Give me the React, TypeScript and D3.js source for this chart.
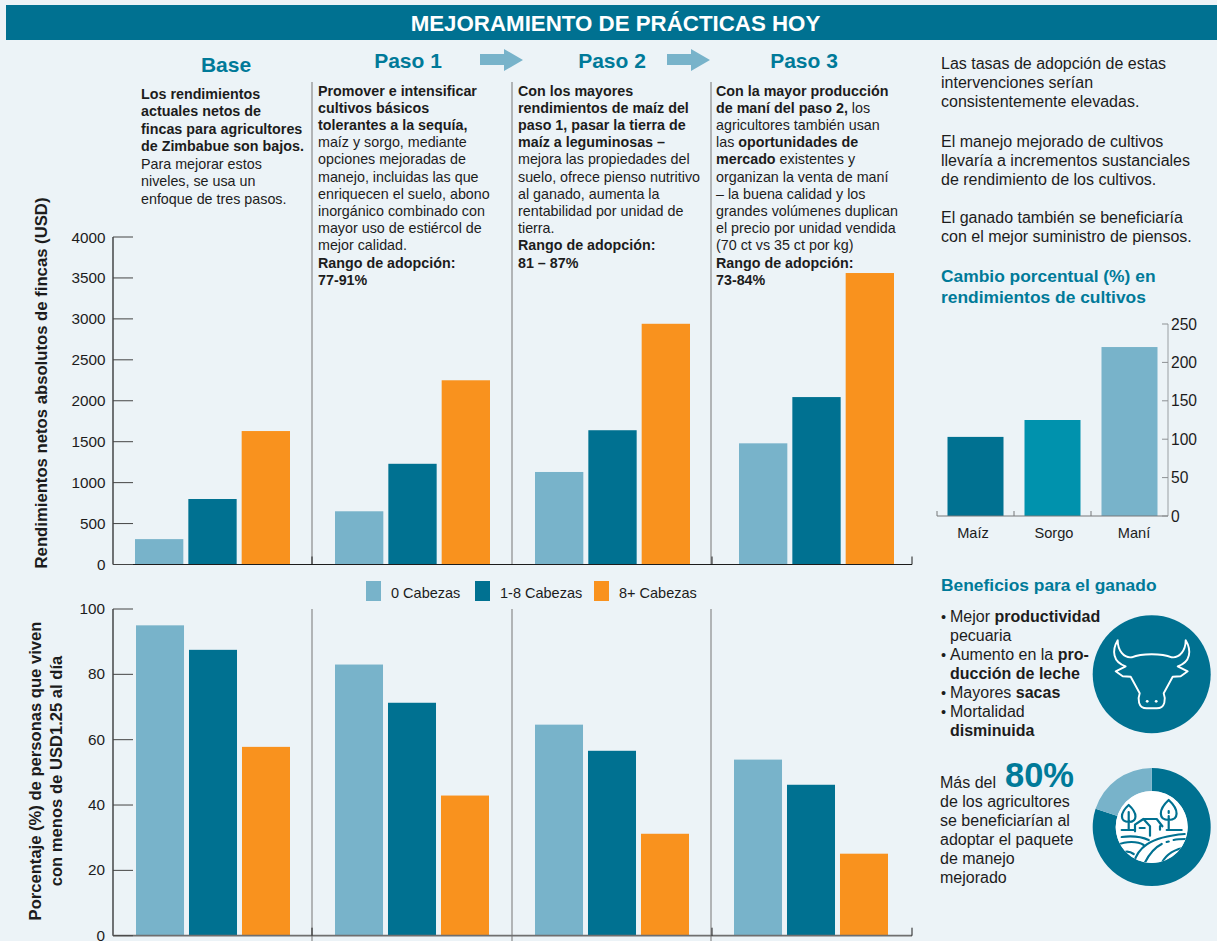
import { scaleLinear, scaleBand, scaleOrdinal, pie, arc } from "d3";

const steps = ["Base", "Paso 1", "Paso 2", "Paso 3"];
const herds = ["0 Cabezas", "1-8 Cabezas", "8+ Cabezas"];

const incomeByHerd = [
  [310, 650, 1130, 1480],
  [800, 1230, 1640, 2045],
  [1630, 2250, 2940, 3560],
];
const povertyByHerd = [
  [95, 83, 64.6, 53.9],
  [87.5, 71.3, 56.6, 46.2],
  [57.8, 42.9, 31.2, 25.1],
];
const incomeTicks = [0, 500, 1000, 1500, 2000, 2500, 3000, 3500, 4000];
const povertyTicks = [0, 20, 40, 60, 80, 100];

const crops = ["Maíz", "Sorgo", "Maní"];
const cropChange = [103, 125, 220];
const cropTicks = [0, 50, 100, 150, 200, 250];

const adoption = [80, 20];

type Run = [string, boolean?];
type Line = Run[];

const baseText: Line[] = [
  [["Los rendimientos", true]],
  [["actuales netos de", true]],
  [["fincas para agricultores", true]],
  [["de Zimbabue son bajos.", true]],
  [["Para mejorar estos"]],
  [["niveles, se usa un"]],
  [["enfoque de tres pasos."]],
];
const paso1Text: Line[] = [
  [["Promover e intensificar", true]],
  [["cultivos básicos", true]],
  [["tolerantes a la sequía,", true]],
  [["maíz y sorgo, mediante"]],
  [["opciones mejoradas de"]],
  [["manejo, incluidas las que"]],
  [["enriquecen el suelo, abono"]],
  [["inorgánico combinado con"]],
  [["mayor uso de estiércol de"]],
  [["mejor calidad."]],
  [["Rango de adopción:", true]],
  [["77-91%", true]],
];
const paso2Text: Line[] = [
  [["Con los mayores", true]],
  [["rendimientos de maíz del", true]],
  [["paso 1, pasar la tierra de", true]],
  [["maíz a leguminosas –", true]],
  [["mejora las propiedades del"]],
  [["suelo, ofrece pienso nutritivo"]],
  [["al ganado, aumenta la"]],
  [["rentabilidad por unidad de"]],
  [["tierra."]],
  [["Rango de adopción:", true]],
  [["81 – 87%", true]],
];
const paso3Text: Line[] = [
  [["Con la mayor producción", true]],
  [["de maní del paso 2,", true], [" los"]],
  [["agricultores también usan"]],
  [["las "], ["oportunidades de", true]],
  [["mercado", true], [" existentes y"]],
  [["organizan la venta de maní"]],
  [["– la buena calidad y los"]],
  [["grandes volúmenes duplican"]],
  [["el precio por unidad vendida"]],
  [["(70 ct vs 35 ct por kg)"]],
  [["Rango de adopción:", true]],
  [["73-84%", true]],
];
const sideText = [
  ["Las tasas de adopción de estas", "intervenciones serían", "consistentemente elevadas."],
  ["El manejo mejorado de cultivos", "llevaría a incrementos sustanciales", "de rendimiento de los cultivos."],
  ["El ganado también se beneficiaría", "con el mejor suministro de piensos."],
];
const benefitText: Line[] = [
  [["Mejor "], ["productividad", true]],
  [["pecuaria"]],
  [["Aumento en la "], ["pro-", true]],
  [["ducción de leche", true]],
  [["Mayores "], ["sacas", true]],
  [["Mortalidad"]],
  [["disminuida", true]],
];
const bulletLines = [0, 2, 4, 5];
const adoptText = ["de los agricultores", "se beneficiarían al", "adoptar el paquete", "de manejo", "mejorado"];

const LIGHT = "#78B3CA";
const DARK = "#007191";
const ORANGE = "#F9921E";
const TEAL = "#007A99";
const INK = "#1c1c1c";
const FONT = "'Liberation Sans', Arial, sans-serif";

const Para = ({ lines, x, y, pitch, size }: { lines: Line[]; x: number; y: number; pitch: number; size: number }) => (
  <text fontSize={size} fill={INK}>
    {lines.map((line, i) => (
      <tspan key={i} x={x} y={y + i * pitch}>
        {line.map((r, j) => (
          <tspan key={j} fontWeight={r[1] ? "bold" : "normal"}>{r[0]}</tspan>
        ))}
      </tspan>
    ))}
  </text>
);

const Arrow = ({ x }: { x: number }) => (
  <path
    d={`M${x} 54 H${x + 24} V49 L${x + 43} 60 L${x + 24} 71 V65 H${x} Z`}
    fill={LIGHT}
  />
);

const BarPanel = ({
  values, scaleY, starts, groupWidth,
}: {
  values: number[][];
  scaleY: (v: number) => number;
  starts: number[];
  groupWidth: number;
}) => {
  const scaleStep = scaleOrdinal<string, number>().domain(steps).range(starts);
  const scaleHerd = scaleBand<string>().domain(herds).range([0, groupWidth]).paddingInner(0.094);
  const scaleColor = scaleOrdinal<string, string>().domain(herds).range([LIGHT, DARK, ORANGE]);
  return (
    <g>
      {herds.map((h, i) =>
        steps.map((s, j) => (
          <rect
            key={h + s}
            x={scaleStep(s) + (scaleHerd(h) as number)}
            y={scaleY(values[i][j])}
            width={scaleHerd.bandwidth()}
            height={scaleY(0) - scaleY(values[i][j])}
            fill={scaleColor(h)}
          />
        ))
      )}
    </g>
  );
};

export default function App() {
  const width = 1217;
  const height = 941;

  const AXIS_X = 113;
  const AXIS_END = 912;
  const TICK = 20;
  const seps = [312, 512, 711];

  const yIncome = scaleLinear().domain([0, 4000]).range([564.5, 237]);
  const yPoverty = scaleLinear().domain([0, 100]).range([935.7, 609]);
  const yCrop = scaleLinear().domain([0, 250]).range([516, 324]);
  const xCrop = scaleBand<string>().domain(crops).range([937, 1168]).paddingInner(0.2727).paddingOuter(0.1364);
  const cropColor = scaleOrdinal<string, string>().domain(crops).range([DARK, "#0092AD", LIGHT]);

  const slices = pie<number>().sort(null)(adoption);
  const ring = arc<any>().innerRadius(36).outerRadius(59);

  return (
    <svg
      width={width}
      height={height}
      style={{ position: "absolute", left: 0, top: 0, background: "#ECF3F7" }}
      fontFamily={FONT}
    >
      <rect x={6} y={5} width={1211} height={35} fill={DARK} />
      <text x={615.5} y={31} fontSize={22.3} fontWeight="bold" fill="#fff" textAnchor="middle">
        MEJORAMIENTO DE PRÁCTICAS HOY
      </text>

      {/* step headings */}
      <g fontSize={21} fontWeight="bold" fill={TEAL} textAnchor="middle">
        <text x={226} y={72}>{steps[0]}</text>
        <text x={408} y={68}>{steps[1]}</text>
        <text x={612} y={68}>{steps[2]}</text>
        <text x={804} y={68}>{steps[3]}</text>
      </g>
      <Arrow x={480} />
      <Arrow x={667} />

      <Para lines={baseText} x={141} y={98.5} pitch={17.5} size={14.3} />
      <Para lines={paso1Text} x={318} y={95.5} pitch={17.2} size={14.3} />
      <Para lines={paso2Text} x={518} y={95.5} pitch={17.2} size={14.3} />
      <Para lines={paso3Text} x={716} y={95.5} pitch={17.2} size={14.3} />

      {/* separators */}
      {seps.map((x) => (
        <g key={x} stroke="#8a8a8a" strokeWidth={1.2}>
          <line x1={x} x2={x} y1={82} y2={565} />
          <line x1={x} x2={x} y1={609} y2={941} />
        </g>
      ))}

      {/* top chart */}
      <BarPanel values={incomeByHerd} scaleY={yIncome} starts={[135, 335, 535, 739]} groupWidth={155} />
      <g stroke={INK} fill="none">
        <line x1={AXIS_X} x2={AXIS_X} y1={yIncome(4000)} y2={yIncome(0)} strokeWidth={1.2} />
        <line x1={AXIS_X} x2={AXIS_END} y1={yIncome(0)} y2={yIncome(0)} strokeWidth={1.2} />
        {incomeTicks.map((t) => (
          <line key={t} x1={AXIS_X} x2={AXIS_X + TICK} y1={yIncome(t)} y2={yIncome(t)} strokeWidth={1} stroke="#444" />
        ))}
        {[312, 712, AXIS_END].map((x) => (
          <line key={x} x1={x} x2={x} y1={yIncome(0) - 8} y2={yIncome(0)} strokeWidth={1} />
        ))}
      </g>
      <g fontSize={15.3} fill={INK} textAnchor="end">
        {incomeTicks.map((t) => (
          <text key={t} x={105.5} y={yIncome(t) + 5.5}>{t}</text>
        ))}
      </g>
      <text
        transform="translate(46.5,383) rotate(-90)"
        fontSize={16.7}
        fontWeight="bold"
        fill={INK}
        textAnchor="middle"
      >
        Rendimientos netos absolutos de fincas (USD)
      </text>

      {/* legend */}
      <g fontSize={14.5} fill={INK}>
        {herds.map((h, i) => (
          <g key={h}>
            <rect x={[366, 475, 594][i]} y={581} width={15} height={20} fill={[LIGHT, DARK, ORANGE][i]} />
            <text x={[391, 500, 619][i]} y={598}>{h}</text>
          </g>
        ))}
      </g>

      {/* bottom chart */}
      <BarPanel values={povertyByHerd} scaleY={yPoverty} starts={[136, 335, 535, 734]} groupWidth={154} />
      <g fill="none">
        <line x1={AXIS_X} x2={AXIS_X} y1={yPoverty(100)} y2={yPoverty(0)} stroke={INK} strokeWidth={1.2} />
        <line x1={AXIS_X} x2={AXIS_END} y1={yPoverty(0)} y2={yPoverty(0)} stroke="#6f6f6f" strokeWidth={1.8} />
        {povertyTicks.map((t) => (
          <line key={t} x1={AXIS_X} x2={AXIS_X + TICK} y1={yPoverty(t)} y2={yPoverty(t)} stroke="#444" strokeWidth={1} />
        ))}
        {[312, 712, AXIS_END].map((x) => (
          <line key={x} x1={x} x2={x} y1={yPoverty(0) - 8} y2={yPoverty(0)} stroke={INK} strokeWidth={1} />
        ))}
      </g>
      <g fontSize={15.3} fill={INK} textAnchor="end">
        {povertyTicks.map((t) => (
          <text key={t} x={105} y={yPoverty(t) + 5}>{t}</text>
        ))}
      </g>
      <g fontSize={16.6} fontWeight="bold" fill={INK} textAnchor="middle">
        <text transform="translate(41,771) rotate(-90)">Porcentaje (%) de personas que viven</text>
        <text transform="translate(62,771) rotate(-90)">con menos de USD1.25 al día</text>
      </g>

      {/* right column */}
      <g fontSize={16} fill={INK}>
        {sideText.map((block, b) =>
          block.map((t, i) => (
            <text key={t} x={941} y={[68.5, 146.5, 222.5][b] + i * 19}>{t}</text>
          ))
        )}
      </g>
      <g fontSize={17.4} fontWeight="bold" fill={TEAL}>
        <text x={941} y={282}>Cambio porcentual (%) en</text>
        <text x={941} y={303}>rendimientos de cultivos</text>
        <text x={941} y={591}>Beneficios para el ganado</text>
      </g>

      {/* crop chart */}
      {crops.map((c, i) => (
        <rect
          key={c}
          x={xCrop(c)}
          y={yCrop(cropChange[i])}
          width={xCrop.bandwidth()}
          height={yCrop(0) - yCrop(cropChange[i])}
          fill={cropColor(c)}
        />
      ))}
      <line x1={1168} x2={1168} y1={yCrop(250)} y2={yCrop(0)} stroke="#b9bec2" strokeWidth={1.6} />
      <line x1={937} x2={1168} y1={yCrop(0)} y2={yCrop(0)} stroke="#77797b" strokeWidth={1.1} />
      {[937, 1014, 1091].map((x) => (
        <line key={x} x1={x} x2={x} y1={yCrop(0) - 5} y2={yCrop(0)} stroke="#77797b" />
      ))}
      {cropTicks.map((t) => (
        <g key={t}>
          <line x1={1162} x2={1168} y1={yCrop(t)} y2={yCrop(t)} stroke="#8d9194" />
          <text x={1171} y={yCrop(t) + 5.5} fontSize={15.6} fill={INK}>{t}</text>
        </g>
      ))}
      {crops.map((c, i) => (
        <text key={c} x={[973, 1054, 1134][i]} y={538} fontSize={14.6} fill={INK} textAnchor="middle">{c}</text>
      ))}

      {/* benefits */}
      <Para lines={benefitText} x={950} y={621.5} pitch={19} size={16} />
      {bulletLines.map((i) => (
        <text key={i} x={941} y={621.5 + i * 19} fontSize={14.5} fill={INK}>•</text>
      ))}

      <g transform="translate(1151.7,674.3)">
        <circle r={59} fill={DARK} />
        <path
          d="M-34 -34 C-40 -24 -39 -12 -26 -8 L-36 -3 L-29 2 L-21 2.5 L-12 19 C-14 24 -14 34 -5 34 L5 34 C14 34 14 24 12 19 L21 2.5 L29 2 L36 -3 L26 -8 C39 -12 40 -24 34 -34 C34 -24 28 -16 20 -17 C10 -21 -10 -21 -20 -17 C-28 -16 -34 -24 -34 -34 Z"
          fill="none"
          stroke="#fff"
          strokeWidth={1.9}
          strokeLinejoin="round"
        />
        <circle cx={-4.5} cy={27} r={1.4} fill="#fff" />
        <circle cx={4.5} cy={27} r={1.4} fill="#fff" />
      </g>

      {/* 80% */}
      <text x={940} y={787.5} fontSize={16} fill={INK}>Más del</text>
      <text x={1005} y={787} fontSize={34.5} fontWeight="bold" fill={TEAL}>80%</text>
      {adoptText.map((t, i) => (
        <text key={t} x={940} y={806.5 + i * 19} fontSize={16} fill={INK}>{t}</text>
      ))}

      <g transform="translate(1151.7,827)">
        {slices.map((s, i) => (
          <path key={i} d={ring(s) as string} fill={i === 0 ? DARK : LIGHT} />
        ))}
        <clipPath id="farm-clip"><circle r={36} /></clipPath>
        <circle r={36} fill="#fff" />
        <g clipPath="url(#farm-clip)" fill="none" stroke={DARK} strokeWidth={2.2} strokeLinecap="round" strokeLinejoin="round">
          <path d="M-23 -22 C-32 -14 -32 -5 -23 -5 C-14 -5 -14 -14 -23 -22 Z M-23 -15 V2" />
          <path d="M17 -27 C6 -17 7 -7 17 -7 C27 -7 28 -17 17 -27 Z M17 -16 V-14 M17 -11 V3" />
          <path d="M-16.7 -2.3 L-8.3 -8 H5 L10.7 -0.7 M-8.3 -8 L-1.7 -0.7 M-16.7 -2.3 V4.3 M-1.7 -0.7 V8.7 M8.3 -1 V2.7 M-12 1 H-7" />
          <path d="M-30 3 H-17 M15 3 H30" />
          <path d="M-30 10 C-22 9 -12 9 -3 13" />
          <path d="M-34 18 C-26 14 -14 14 -8 18" />
          <path d="M-30 26 C-26 24 -22 24 -18 27" />
          <path d="M-18 36 C-14 22 -4 10 33 7" />
          <path d="M-7 36 C-2 26 4 20 10 17 M15 15 L17 14.5 M22 13 C26 12 30 12 34 12" />
          <path d="M10 36 C14 28 22 22 36 20" />
        </g>
      </g>
    </svg>
  );
}
